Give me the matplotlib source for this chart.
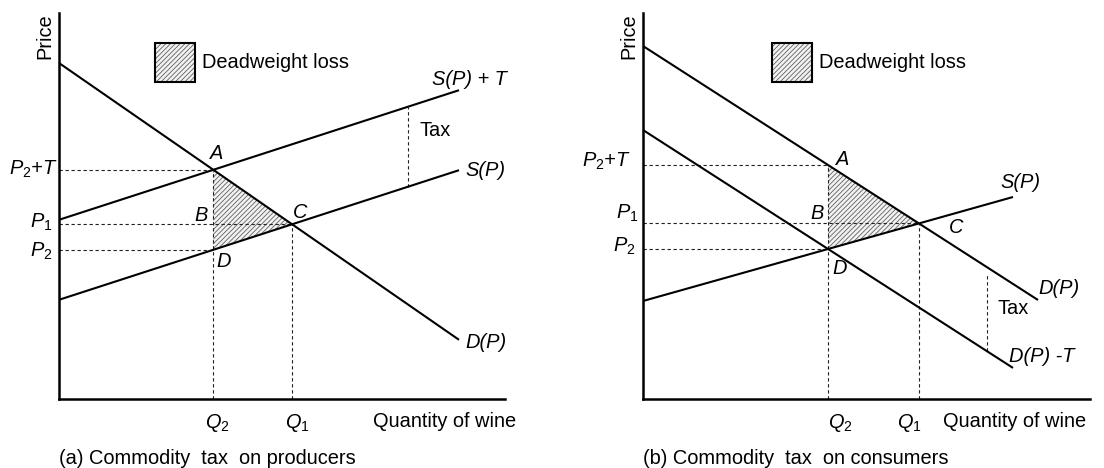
import matplotlib.pyplot as plt
from matplotlib.patches import Polygon, Rectangle

plt.rcParams['font.family'] = 'Liberation Sans'
plt.rcParams['font.size'] = 14.4
plt.rcParams['mathtext.fontset'] = 'custom'
plt.rcParams['mathtext.rm'] = 'Liberation Sans'
plt.rcParams['mathtext.it'] = 'Liberation Sans:italic'
plt.rcParams['hatch.linewidth'] = 0.6

# (a) tax on producers: price at q=0 and at the end of each curve
a_q_end = 10.0
a_demand = [8.4, 1.48]
a_supply = [2.48, 5.72]
a_tax = 2.0
a_tax_q = 8.73

# (b) tax on consumers
b_dem_end = 9.875
b_demand = [8.825, 2.475]
b_sup_end = 9.25
b_supply = [2.45, 5.05]
b_tax = 2.1
b_tax_q = 8.6

captions = ['(a) Commodity  tax  on producers', '(b) Commodity  tax  on consumers']

PX = 0.72  # pixel offsets -> points
HATCH_GRAY = '#606060'
FILL = '#f2f2f2'
DASH = dict(color='#222222', lw=0.8, linestyle=(0, (3, 2.4)))
SOLID = dict(color='black', lw=1.5, solid_capstyle='butt')


def line(p0, p1, q1):
    return p0, (p1 - p0) / q1


def at(l, q):
    return l[0] + l[1] * q


def cross(l1, l2):
    q = (l2[0] - l1[0]) / (l1[1] - l2[1])
    return q, at(l1, q)


def label(ax, txt, xy, dx, dy, ha='left', va='center', **kw):
    ax.annotate(txt, xy, xytext=(dx * PX, dy * PX), textcoords='offset points',
                ha=ha, va=va, **kw)


fig = plt.figure(figsize=(11.04, 4.68), dpi=100)
ax_a = fig.add_axes([59 / 1104, 69 / 468, 446 / 1104, 386 / 468])
ax_b = fig.add_axes([643 / 1104, 69 / 468, 447 / 1104, 386 / 468])

for ax, cap, box_x in [(ax_a, captions[0], 2.4), (ax_b, captions[1], 3.225)]:
    ax.set_xlim(0, ax.get_position().width * 1104 / 40)
    ax.set_ylim(0, 386 / 40)
    ax.set_xticks([])
    ax.set_yticks([])
    for s in ['top', 'right']:
        ax.spines[s].set_visible(False)
    for s in ['left', 'bottom']:
        ax.spines[s].set_linewidth(1.8)
    ax.patch.set_alpha(0)
    ax.text(-0.35, 9.65, 'Price', rotation=90, ha='center', va='top')
    ax.add_patch(Rectangle((box_x, 7.925), 1.0, 0.975, facecolor=FILL,
                           edgecolor=HATCH_GRAY, lw=0, hatch='///////'))
    ax.add_patch(Rectangle((box_x, 7.925), 1.0, 0.975, fill=False,
                           edgecolor='black', lw=1.5))
    ax.text(box_x + 1.175, 8.4, 'Deadweight loss', va='center')
    pos = ax.get_position()
    fig.text(pos.x0, 1 - 459 / 468, cap, va='center')


def triangle(ax, pts):
    ax.add_patch(Polygon(pts, closed=True, facecolor=FILL,
                         edgecolor=HATCH_GRAY, lw=0, hatch='///////'))


def guides(ax, qa, pa, qc, pc, pd):
    ax.plot([0, qa], [pa, pa], **DASH)
    ax.plot([0, qc], [pc, pc], **DASH)
    ax.plot([0, qa], [pd, pd], **DASH)
    ax.plot([qa, qa], [0, pa], **DASH)
    ax.plot([qc, qc], [0, pc], **DASH)


# ---- panel (a)
dem = line(a_demand[0], a_demand[1], a_q_end)
sup = line(a_supply[0], a_supply[1], a_q_end)
sup_t = (sup[0] + a_tax, sup[1])
qa, pa = cross(dem, sup_t)
qc, pc = cross(dem, sup)
pd = at(sup, qa)

triangle(ax_a, [(qa, pa), (qc, pc), (qa, pd)])
guides(ax_a, qa, pa, qc, pc, pd)
ax_a.plot([a_tax_q, a_tax_q], [at(sup, a_tax_q), at(sup_t, a_tax_q)], **DASH)
for l in [dem, sup, sup_t]:
    ax_a.plot([0, a_q_end], [at(l, 0), at(l, a_q_end)], **SOLID)

it = dict(style='italic')
label(ax_a, 'A', (qa, pa), 3.5, 16, ha='center', **it)
label(ax_a, 'B', (qa, pc), -12, 9, ha='center', **it)
label(ax_a, 'C', (qc, pc), 8, 12, ha='center', **it)
label(ax_a, 'D', (qa, pd), 10, -12, ha='center', **it)
label(ax_a, 'S(P) + T', (a_q_end, at(sup_t, a_q_end)), -27, 11, **it)
label(ax_a, 'S(P)', (a_q_end, at(sup, a_q_end)), 6, 0, **it)
label(ax_a, 'D(P)', (a_q_end, at(dem, a_q_end)), 6, -3, **it)
label(ax_a, 'Tax', (a_tax_q, at(sup, a_tax_q) + a_tax / 2), 11, 16)
label(ax_a, r'$P_{\mathit{2}}$+$T$', (0, pa), -1, 0, ha='right', **it)
label(ax_a, r'$P_{\mathit{1}}$', (0, pc), -7, 2, ha='right')
label(ax_a, r'$P_{\mathit{2}}$', (0, pd), -7, -2, ha='right')
label(ax_a, r'$Q_{\mathit{2}}$', (qa, 0), 4, -13, ha='center', va='top')
label(ax_a, r'$Q_{\mathit{1}}$', (qc, 0), 5, -13, ha='center', va='top')
label(ax_a, 'Quantity of wine', (7.85, 0), 0, -13, va='top')

# ---- panel (b)
dem = line(b_demand[0], b_demand[1], b_dem_end)
dem_t = (dem[0] - b_tax, dem[1])
sup = line(b_supply[0], b_supply[1], b_sup_end)
qd, pd = cross(dem_t, sup)
qc, pc = cross(dem, sup)
pa = at(dem, qd)

triangle(ax_b, [(qd, pa), (qc, pc), (qd, pd)])
guides(ax_b, qd, pa, qc, pc, pd)
ax_b.plot([b_tax_q, b_tax_q], [at(dem_t, b_tax_q), at(dem, b_tax_q) - 0.2], **DASH)
ax_b.plot([0, b_dem_end], [at(dem, 0), at(dem, b_dem_end)], **SOLID)
ax_b.plot([0, b_sup_end], [at(dem_t, 0), at(dem_t, b_sup_end)], **SOLID)
ax_b.plot([0, b_sup_end], [at(sup, 0), at(sup, b_sup_end)], **SOLID)

label(ax_b, 'A', (qd, pa), 15, 5, ha='center', **it)
label(ax_b, 'B', (qd, pc), -11, 10, ha='center', **it)
label(ax_b, 'C', (qc, pc), 37, -4, ha='center', **it)
label(ax_b, 'D', (qd, pd), 12, -20, ha='center', **it)
label(ax_b, 'S(P)', (b_sup_end, at(sup, b_sup_end)), -13, 14, **it)
label(ax_b, 'D(P)', (b_dem_end, at(dem, b_dem_end)), 0, 12, **it)
label(ax_b, 'Tax', (b_tax_q, at(dem_t, b_tax_q) + b_tax / 2), 11, 1)
label(ax_b, 'D(P) -T', (b_sup_end, at(dem_t, b_sup_end)), -4, 11, **it)
label(ax_b, r'$P_{\mathit{2}}$+$T$', (0, pa), -12, 4, ha='right', **it)
label(ax_b, r'$P_{\mathit{1}}$', (0, pc), -5, 10, ha='right')
label(ax_b, r'$P_{\mathit{2}}$', (0, pd), -8, 3, ha='right')
label(ax_b, r'$Q_{\mathit{2}}$', (qd, 0), 12, -13, ha='center', va='top')
label(ax_b, r'$Q_{\mathit{1}}$', (qc, 0), -10, -13, ha='center', va='top')
label(ax_b, 'Quantity of wine', (7.5, 0), 0, -13, va='top')

fig.savefig('out.png', dpi=100)
